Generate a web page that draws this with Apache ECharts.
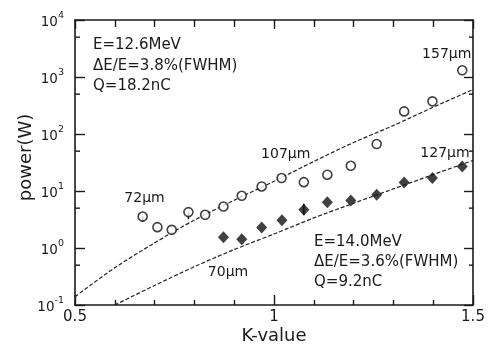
<!DOCTYPE html>
<html>
<head>
<meta charset="utf-8">
<script src="https://cdn.jsdelivr.net/npm/echarts@6/dist/echarts.min.js"></script>
<style>html,body{margin:0;padding:0;background:#fff}#c{width:489px;height:347px}</style>
</head>
<body>
<div id="c"></div>
<script>
// Measured data (12.6 MeV, open circles)
const kCircles = [0.670, 0.707, 0.743, 0.785, 0.827, 0.873, 0.919, 0.969, 1.019, 1.075, 1.134, 1.193, 1.258, 1.327, 1.398, 1.473];
const pCircles = [3.56, 2.32, 2.08, 4.26, 3.82, 5.34, 8.24, 12.0, 16.9, 14.3, 19.3, 27.7, 66.7, 249, 374, 1312];
// Measured data (14.0 MeV, filled diamonds)
const kDiamonds = [0.873, 0.919, 0.969, 1.020, 1.075, 1.134, 1.193, 1.258, 1.327, 1.398, 1.473];
const pDiamonds = [1.55, 1.43, 2.29, 3.08, 4.68, 6.38, 6.81, 8.57, 14.1, 16.9, 27.0];
// Error bars: K, low, high
const errK = [0.670, 0.785, 1.075];
const errLow = [2.85, 3.2, 3.78];
const errHigh = [3.6, 4.3, 5.96];
// Calculated curves (dashed)
const kUpper = [0.5, 0.6, 0.7, 0.8, 0.9, 1.0, 1.1, 1.2, 1.3, 1.4, 1.5];
const pUpper = [0.14, 0.45, 1.23, 3.09, 6.9, 14.8, 33, 71, 141, 295, 603];
const kLower = [0.6, 0.7, 0.8, 0.9, 1.0, 1.1, 1.2, 1.3, 1.4, 1.5];
const pLower = [0.1, 0.22, 0.47, 0.94, 1.76, 3.37, 6.1, 10.9, 19.4, 34.4];
// Minor ticks of the log axis (5 x 10^n)
const yMinorTicks = [0.5, 5, 50, 500, 5000];
// Texts
const upperNote = ['E=12.6MeV', 'ΔE/E=3.8%(FWHM)', 'Q=18.2nC'];
const lowerNote = ['E=14.0MeV', 'ΔE/E=3.6%(FWHM)', 'Q=9.2nC'];
const wlLabels = ['72μm', '70μm', '107μm', '127μm', '157μm'];

const zip = (a, b) => a.map((v, i) => [v, b[i]]);
const FONT = '"DejaVu Sans", sans-serif';
const INK = '#1a1a1a';

const chart = echarts.init(document.getElementById('c'), null, {renderer: 'canvas'});

const logAxisBase = {
  type: 'log', logBase: 10, min: 0.1, max: 10000,
  splitLine: {show: false}
};

const option = {
  animation: false,
  backgroundColor: '#fff',
  grid: {left: 75, right: 16, top: 20, bottom: 42, containLabel: false, outerBoundsMode: 'none'},
  xAxis: [
    {
      type: 'value', position: 'bottom', min: 0.5, max: 1.5, interval: 0.5,
      name: 'K-value', nameLocation: 'middle', nameGap: 22, nameMoveOverlap: false,
      nameTextStyle: {fontFamily: FONT, fontSize: 18, color: INK},
      axisLine: {show: true, lineStyle: {color: INK, width: 1.6}},
      axisTick: {show: true, inside: true, length: 10, lineStyle: {color: INK, width: 1.4}},
      minorTick: {show: true, splitNumber: 5, length: 5, lineStyle: {color: INK, width: 1.4}},
      axisLabel: {fontFamily: FONT, fontSize: 15, color: INK, margin: 5},
      splitLine: {show: false}, minorSplitLine: {show: false}
    },
    {
      type: 'value', position: 'top', min: 0.5, max: 1.5, interval: 0.5,
      axisLine: {show: true, lineStyle: {color: INK, width: 1.6}},
      axisTick: {show: true, inside: true, length: 9, lineStyle: {color: INK, width: 1.4}},
      minorTick: {show: true, splitNumber: 5, length: 7, lineStyle: {color: INK, width: 1.4}},
      axisLabel: {show: false},
      splitLine: {show: false}
    }
  ],
  yAxis: [
    Object.assign({}, logAxisBase, {
      position: 'left',
      name: 'power(W)', nameLocation: 'middle', nameGap: 40, nameRotate: 90, nameMoveOverlap: false,
      nameTextStyle: {fontFamily: FONT, fontSize: 18, color: INK, padding: [0, 0, 0, 10]},
      axisLine: {show: true, lineStyle: {color: INK, width: 1.6}},
      axisTick: {show: true, inside: true, length: 10, lineStyle: {color: INK, width: 1.4}},
      axisLabel: {
        margin: 11, color: INK,
        formatter: v => '{b|10}{s|' + Math.round(Math.log10(v)) + '}',
        rich: {
          b: {fontFamily: FONT, fontSize: 13.5, color: INK, lineHeight: 18, verticalAlign: 'bottom'},
          s: {fontFamily: FONT, fontSize: 9.5, color: INK, lineHeight: 18, verticalAlign: 'top'}
        }
      }
    }),
    Object.assign({}, logAxisBase, {
      position: 'right',
      axisLine: {show: true, lineStyle: {color: INK, width: 1.6}},
      axisTick: {show: true, inside: true, length: 9, lineStyle: {color: INK, width: 1.4}},
      axisLabel: {show: false}
    })
  ],
  series: [
    {
      type: 'line', data: zip(kUpper, pUpper), smooth: 0.3, symbol: 'none',
      lineStyle: {color: '#222', width: 1.2, type: [4, 2]}, z: 2
    },
    {
      type: 'line', data: zip(kLower, pLower), smooth: 0.3, symbol: 'none',
      lineStyle: {color: '#222', width: 1.2, type: [4, 2]}, z: 2
    },
    {
      // short minor ticks at 5 x 10^n on both vertical frame edges
      type: 'custom', z: 5, silent: true,
      data: yMinorTicks.map(v => [0.5, v]),
      renderItem: (params, api) => {
        const p = api.coord([0.5, api.value(1)]);
        const cs = params.coordSys;
        const st = {stroke: INK, lineWidth: 1.4};
        return {type: 'group', children: [
          {type: 'line', shape: {x1: cs.x, y1: p[1], x2: cs.x + 5, y2: p[1]}, style: st},
          {type: 'line', shape: {x1: cs.x + cs.width, y1: p[1], x2: cs.x + cs.width - 4, y2: p[1]}, style: st}
        ]};
      }
    },
    {
      type: 'custom', z: 3,
      data: errK.map((k, i) => [k, errLow[i], errHigh[i]]),
      renderItem: (params, api) => {
        const a = api.coord([api.value(0), api.value(1)]);
        const b = api.coord([api.value(0), api.value(2)]);
        return {type: 'line', shape: {x1: a[0], y1: a[1], x2: b[0], y2: b[1]},
                style: {stroke: '#111', lineWidth: 1.6}};
      }
    },
    {
      type: 'scatter', data: zip(kCircles, pCircles), symbol: 'circle', symbolSize: 9,
      itemStyle: {color: '#fff', borderColor: '#111', borderWidth: 1.6}, z: 4
    },
    {
      type: 'scatter', data: zip(kDiamonds, pDiamonds), symbol: 'diamond', symbolSize: [11, 12],
      itemStyle: {color: '#111'}, z: 4
    }
  ],
  graphic: [
    ...upperNote.map((t, i) => ({type: 'text', x: 93, y: 45 + i * 20.7, z: 10,
      style: {text: t, font: '15px ' + FONT, fill: INK, textVerticalAlign: 'middle'}})),
    ...lowerNote.map((t, i) => ({type: 'text', x: 314, y: 242 + i * 20.3, z: 10,
      style: {text: t, font: '15px ' + FONT, fill: INK, textVerticalAlign: 'middle'}})),
    {type: 'text', x: 144.5, y: 198, z: 10, style: {text: wlLabels[0], font: '14px ' + FONT, fill: INK, textAlign: 'center', textVerticalAlign: 'middle'}},
    {type: 'text', x: 228, y: 272, z: 10, style: {text: wlLabels[1], font: '14px ' + FONT, fill: INK, textAlign: 'center', textVerticalAlign: 'middle'}},
    {type: 'text', x: 285.7, y: 154, z: 10, style: {text: wlLabels[2], font: '14px ' + FONT, fill: INK, textAlign: 'center', textVerticalAlign: 'middle'}},
    {type: 'text', x: 445, y: 153, z: 10, style: {text: wlLabels[3], font: '14px ' + FONT, fill: INK, textAlign: 'center', textVerticalAlign: 'middle'}},
    {type: 'text', x: 446.7, y: 54, z: 10, style: {text: wlLabels[4], font: '14px ' + FONT, fill: INK, textAlign: 'center', textVerticalAlign: 'middle'}}
  ]
};
chart.setOption(option);
</script>
</body>
</html>
